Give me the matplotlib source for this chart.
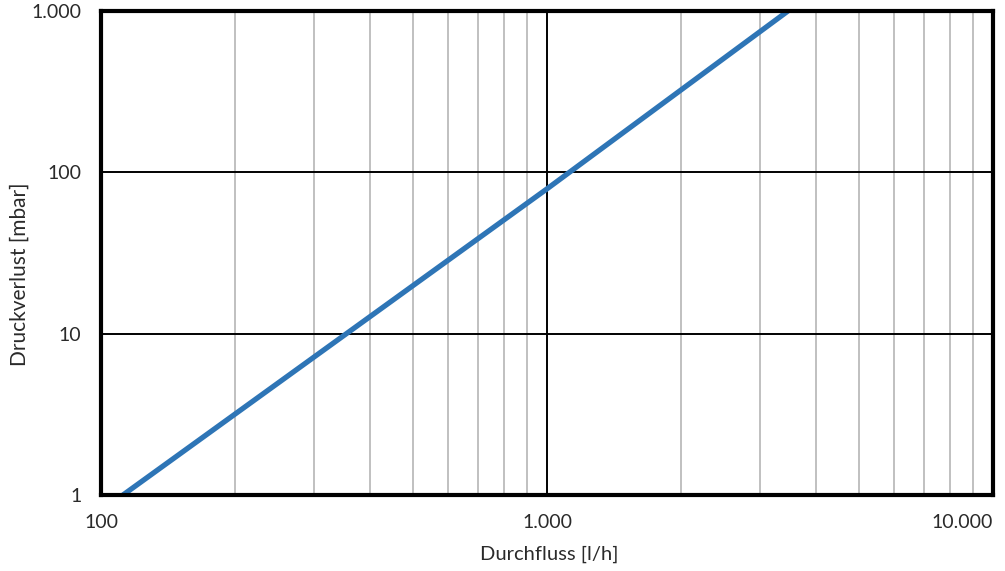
import matplotlib.pyplot as plt
from matplotlib.ticker import FixedLocator, FixedFormatter, NullFormatter

# values
flow = [112, 1000, 3470]
dp = [1, 79, 1000]
x_ticks = [100, 1000, 10000]
x_labels = ["100", "1.000", "10.000"]
y_ticks = [1, 10, 100, 1000]
y_labels = ["1", "10", "100", "1.000"]

plt.rcParams['font.family'] = ['Lato', 'DejaVu Sans']
txt = "#2a2a2a"

fig = plt.figure(figsize=(10.05, 5.71), dpi=100)
ax = fig.add_axes([101/1005, 1-495/571, (993-101)/1005, (495-11)/571])
ax.set_xscale("log")
ax.set_yscale("log")
ax.set_xlim(100, 10000)
ax.set_ylim(1, 1000)

ax.xaxis.set_major_locator(FixedLocator(x_ticks))
ax.xaxis.set_major_formatter(FixedFormatter(x_labels))
ax.xaxis.set_minor_locator(FixedLocator([m*d for d in (100, 1000) for m in range(2, 10)]))
ax.xaxis.set_minor_formatter(NullFormatter())
ax.yaxis.set_major_locator(FixedLocator(y_ticks))
ax.yaxis.set_major_formatter(FixedFormatter(y_labels))
ax.yaxis.set_minor_locator(FixedLocator([]))

ax.grid(True, which="major", color="black", lw=1.4)
ax.grid(True, which="minor", axis="x", color="#c0c0c0", lw=1.4)
ax.set_axisbelow(True)

ax.plot(flow, dp, color="#2e75b6", lw=3.8, solid_capstyle="butt", zorder=3)

for s in ax.spines.values():
    s.set_linewidth(3)
    s.set_color("black")
    s.set_zorder(4)

ax.tick_params(which="both", length=0, labelsize=14, colors=txt)
ax.tick_params(axis="x", pad=14)
ax.tick_params(axis="y", pad=14)
# last x label sits inside the figure, right-aligned to the frame
fig.canvas.draw()
ax.xaxis.get_major_ticks()[-1].label1.set_horizontalalignment("right")

ax.set_xlabel("Durchfluss [l/h]", fontsize=14.5, color=txt)
ax.set_ylabel("Druckverlust [mbar]", fontsize=15, color=txt)
ax.xaxis.set_label_coords(0.503, -0.105)
ax.yaxis.set_label_coords(-0.0796, 0.457)

fig.savefig("out.png", dpi=100)
